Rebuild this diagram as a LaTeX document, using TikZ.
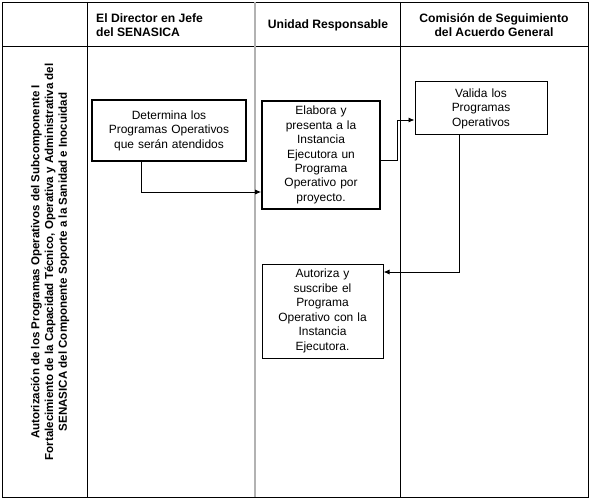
\documentclass[tikz,border=0pt]{standalone}
\usepackage{fontspec}
\setmainfont{Liberation Sans}
\usepackage{xcolor}
\usepackage{tikz}
\tikzset{>=latex}
\usetikzlibrary{
    positioning,
    arrows.meta,
    calc
}

\begin{document}
\begin{tikzpicture}[x=1bp,y=-1bp]
    \useasboundingbox (0,0) rectangle (590,500);
    % styles
    \tikzstyle{grid}   = [draw=black,line width=0.9bp]
    \tikzstyle{lane}   = [font=\bfseries\fontsize{12.2}{14}\selectfont, inner sep=0pt]
    \tikzstyle{block}  = [rectangle, draw=black, text=black, text centered, align=center,
                          font=\fontsize{12}{14.5}\selectfont, inner sep=0pt]
    \tikzstyle{flow}   = [-{Latex[length=6bp,width=5bp]},draw=black,line width=0.9bp]
    % table
    \draw[grid] (2,2) rectangle (588,497);
    \draw[grid] (2,46) -- (588,46);
    \draw[grid] (87,2) -- (87,497);
    \draw[draw=black!30,line width=2bp] (255,2) -- (255,497);
    \draw[grid] (400,2) -- (400,497);
    % headers
    \node[lane,align=left,anchor=west] (director) at (96,25) {El Director en Jefe\\del SENASICA};
    \node[lane] (unidad) at (328,25) {Unidad Responsable};
    \node[lane,align=center] (comision) at (494,25) {Comisión de Seguimiento\\del Acuerdo General};
    \node[lane,rotate=90,align=center,font=\bfseries\fontsize{11.6}{13.8}\selectfont] (proceso) at (50,262)
        {Autorización de los Programas Operativos del Subcomponente I\\
         Fortalecimiento de la Capacidad Técnico, Operativa y Administrativa del\\
         SENASICA del Componente Soporte a la Sanidad e Inocuidad};
    % blocks
    \node[block,line width=1.6bp,minimum width=154bp,minimum height=61bp,text width=150bp] (determina) at (169,130.5)
        {Determina los\\Programas Operativos\\que serán atendidos};
    \node[block,line width=1.6bp,minimum width=118bp,minimum height=108bp,text width=110bp] (elabora) at (321,155)
        {Elabora y\\presenta a la\\Instancia\\Ejecutora un\\Programa\\Operativo por\\proyecto.};
    \node[block,line width=1bp,minimum width=132bp,minimum height=53bp,text width=126bp] (valida) at (481,108.5)
        {Valida los\\Programas\\Operativos};
    \node[block,line width=1bp,minimum width=121bp,minimum height=94bp,text width=116bp] (autoriza) at (322.5,311)
        {Autoriza y\\suscribe el\\Programa\\Operativo con la\\Instancia\\Ejecutora.};
    % arrows
    \draw[flow] ([xshift=-28bp]determina.south) |- ([yshift=-37bp]elabora.west);
    \draw[flow] ([yshift=-5bp]elabora.east) -- ++(17,0) |- ([yshift=-11.5bp]valida.west);
    \draw[flow] ([xshift=-22bp]valida.south) |- ([yshift=39bp]autoriza.east);
\end{tikzpicture}
\end{document}
